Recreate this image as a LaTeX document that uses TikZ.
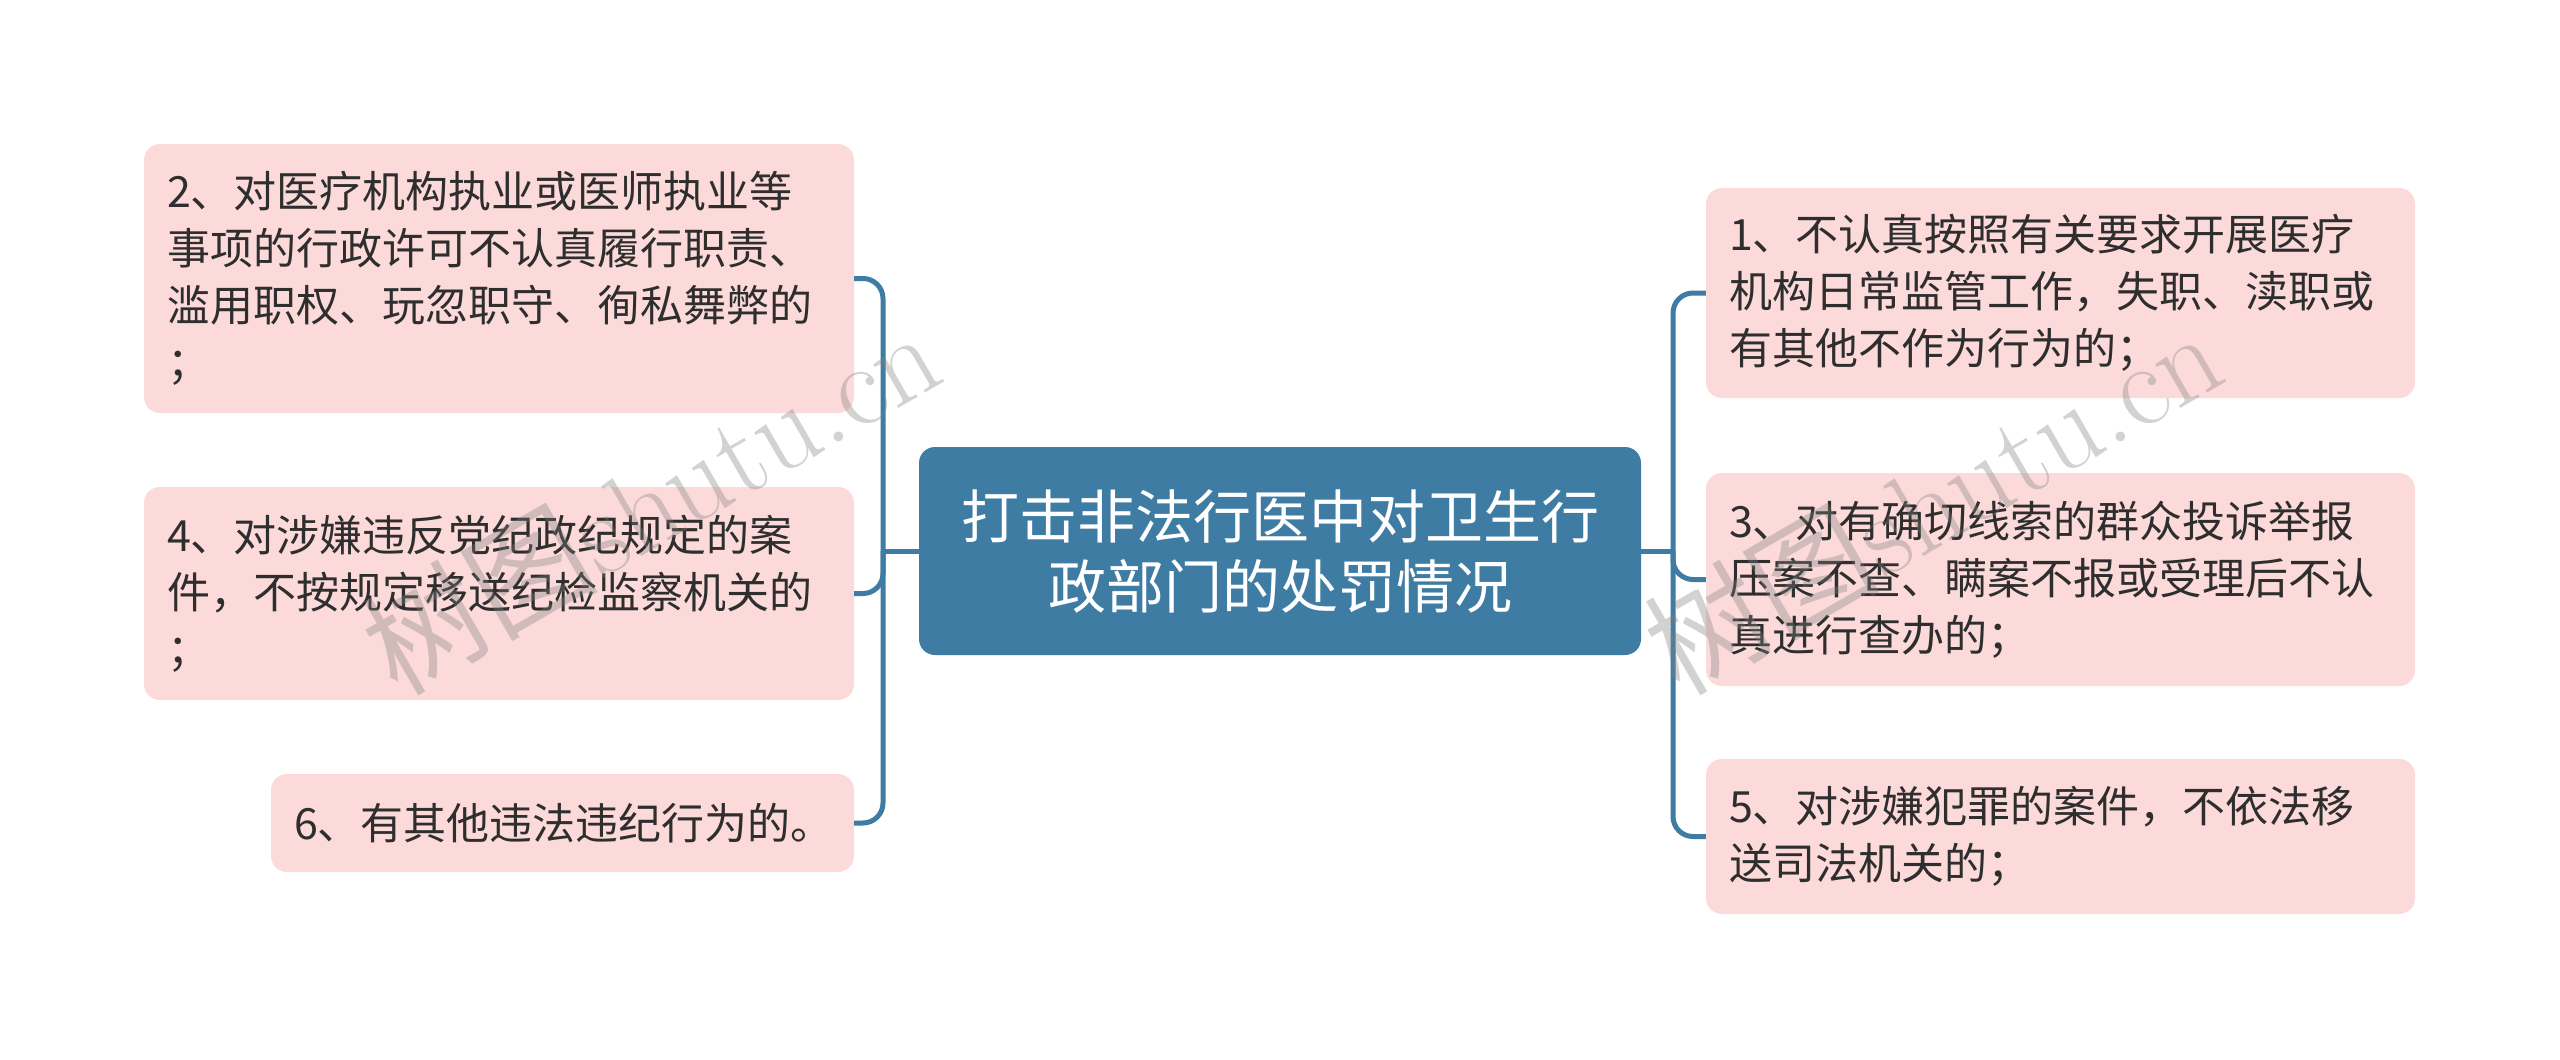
\documentclass[tikz,border=0pt]{standalone}
\usepackage{fontspec}
\newfontfamily\cjk{Noto Sans CJK SC}
\definecolor{leaffill}{HTML}{FCDADA}
\definecolor{hubfill}{HTML}{3E7CA4}
\definecolor{linecol}{HTML}{3E7CA4}
\definecolor{txt}{HTML}{2E2E2E}
\begin{document}
\begin{tikzpicture}[x=1pt,y=-1pt,
  leaf/.style={fill=leaffill, rounded corners=16pt, text=txt,
    font=\cjk\fontsize{43}{57}\selectfont, align=left, inner xsep=23pt, inner ysep=0pt},
  hub/.style={fill=hubfill, rounded corners=16pt, text=white,
    font=\cjk\fontsize{58}{70}\selectfont, align=center, inner sep=0pt,
    minimum width=722pt, minimum height=208pt},
  conn/.style={draw=linecol, line width=5pt, rounded corners=20pt},
  wm/.style={text=gray, opacity=0.35, font=\fontsize{118}{118}\selectfont}
]
\useasboundingbox[fill=white] (0,0) rectangle (2560,1060);

\node[hub] (c) at (1280,551) {打击非法行医中对卫生行\\政部门的处罚情况};

\node[leaf, text width=664pt, minimum height=269pt] (b2) at (499,278.5)
  {2、对医疗机构执业或医师执业等\\事项的行政许可不认真履行职责、\\滥用职权、玩忽职守、徇私舞弊的\\；};
\node[leaf, text width=664pt, minimum height=213pt] (b4) at (499,593.5)
  {4、对涉嫌违反党纪政纪规定的案\\件，不按规定移送纪检监察机关的\\；};
\node[leaf, text width=537pt, minimum height=98pt] (b6) at (562.5,823)
  {6、有其他违法违纪行为的。};

\node[leaf, text width=663pt, minimum height=210pt] (b1) at (2060.5,293)
  {1、不认真按照有关要求开展医疗\\机构日常监管工作，失职、渎职或\\有其他不作为行为的；};
\node[leaf, text width=663pt, minimum height=213pt] (b3) at (2060.5,579.5)
  {3、对有确切线索的群众投诉举报\\压案不查、瞒案不报或受理后不认\\真进行查办的；};
\node[leaf, text width=663pt, minimum height=155pt] (b5) at (2060.5,836.5)
  {5、对涉嫌犯罪的案件，不依法移\\送司法机关的；};

\coordinate (lt) at (883,551);
\coordinate (rt) at (1673,551);
\draw[conn] (c.west) -- (lt);
\draw[conn] (c.east) -- (rt);
\draw[conn] (lt) |- (b2.east);
\draw[conn] (lt) |- (b4.east);
\draw[conn] (lt) |- (b6.east);
\draw[conn] (rt) |- (b1.west);
\draw[conn] (rt) |- (b3.west);
\draw[conn] (rt) |- (b5.west);

\node[wm, rotate=30] (wm1) at (650,500) {{\cjk 树图}shutu.cn};
\node[wm, rotate=30] (wm2) at (1932,500) {{\cjk 树图}shutu.cn};
\end{tikzpicture}
\end{document}
